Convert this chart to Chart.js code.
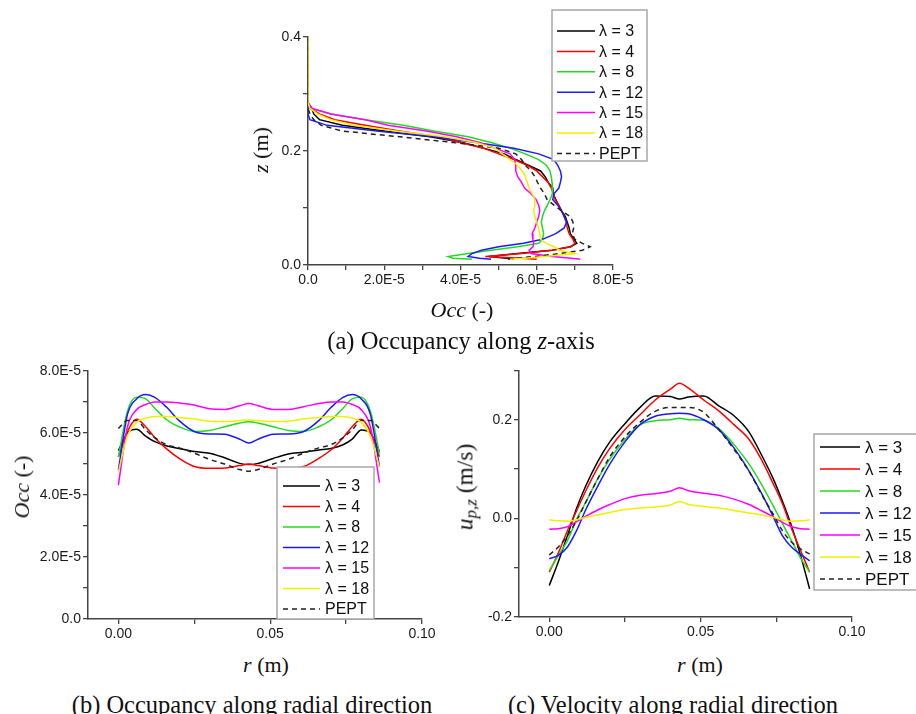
<!DOCTYPE html>
<html lang="en">
<head>
  <meta charset="UTF-8">
  <title>Occupancy and velocity profiles</title>
  <script src="https://cdn.jsdelivr.net/npm/chart.js"></script>
  <style>
    body { margin: 0; background: #fff; }
    #page { position: relative; width: 916px; height: 714px; overflow: hidden; }
    canvas { position: absolute; }
    .txt {
      position: absolute;
      font-family: "Liberation Serif", "Times New Roman", serif;
      color: #111;
      white-space: nowrap;
      line-height: 1;
      transform: translate(-50%, -50%);
    }
    .rot { transform: translate(-50%, -50%) rotate(-90deg); }
    .ax { font-size: 22px; }
    .cap { font-size: 24.5px; }
    sub { font-size: 72%; vertical-align: -0.25em; }
  </style>
</head>
<body>
<div id="page">
  <canvas id="chartA" width="430" height="300" style="left:230px;top:0px"></canvas>
  <canvas id="chartB" width="450" height="290" style="left:0px;top:360px"></canvas>
  <canvas id="chartC" width="456" height="290" style="left:460px;top:360px"></canvas>

  <div class="txt ax rot" style="left:261px;top:150px"><i>z</i> (m)</div>
  <div class="txt ax" style="left:462px;top:310px"><i>Occ</i> (-)</div>
  <div class="txt cap" style="left:461px;top:341px">(a) Occupancy along <i>z</i>-axis</div>

  <div class="txt ax rot" style="left:22px;top:487px"><i>Occ</i> (-)</div>
  <div class="txt ax" style="left:266px;top:665px"><i>r</i> (m)</div>
  <div class="txt cap" style="left:252px;top:705px">(b) Occupancy along radial direction</div>

  <div class="txt ax rot" style="left:467px;top:487px;font-size:23.5px"><i>u</i><sub><i>p,z</i></sub> (m/s)</div>
  <div class="txt ax" style="left:700px;top:665px"><i>r</i> (m)</div>
  <div class="txt cap" style="left:673px;top:705px">(c) Velocity along radial direction</div>
</div>

<script>
  // series names, shared by the three panels
  const seriesLabels = ['λ = 3', 'λ = 4', 'λ = 8', 'λ = 12', 'λ = 15', 'λ = 18', 'PEPT'];
  const seriesColors = ['#000000', '#ff0000', '#1fdc1f', '#1a1aff', '#ff00ff', '#f2ee00', '#222222'];
  // drawing order (lower is painted later, on top)
  const seriesOrder = [6, 5, 4, 3, 2, 0, 1];

  // occupancy is read in units of 1E-5
  const OCC_UNIT = 1e-5;

  // ---- (a) occupancy along z, one value per height ----
  const zGrid = [0.40, 0.30, 0.285, 0.275, 0.265, 0.255, 0.245, 0.235, 0.225, 0.215, 0.205, 0.195,
    0.185, 0.175, 0.165, 0.155, 0.145, 0.135, 0.125, 0.115, 0.105, 0.095, 0.085, 0.075, 0.065,
    0.055, 0.045, 0.038, 0.032, 0.026, 0.020, 0.015, 0.012, 0.010];
  const aOcc3 = [0, 0, 0, 0.1, 0.15, 0.3, 0.9, 2.0, 3.2, 4.05, 4.6, 5.15, 5.45, 5.78, 6.1, 6.22,
    6.3, 6.42, 6.43, 6.5, 6.57, 6.65, 6.75, 6.8, 6.85, 6.88, 6.98, 7.05, 6.88, 6.4, 5.5, 4.75, 5.2, 5.4];
  const aOcc4 = [0, 0, 0, 0.05, 0.3, 0.7, 1.5, 2.4, 3.4, 4.0, 4.6, 5.0, 5.4, 5.75, 6.0, 6.15,
    6.3, 6.38, 6.44, 6.48, 6.58, 6.65, 6.72, 6.78, 6.8, 6.85, 6.95, 7.0, 6.9, 6.4, 5.6, 4.65, 5.6, 6.0];
  const aOcc8 = [0, 0, 0, 0.05, 0.6, 1.5, 2.5, 3.3, 4.2, 4.8, 5.3, 5.7, 6.05, 6.25, 6.35, 6.38,
    6.4, 6.42, 6.4, 6.35, 6.28, 6.2, 6.15, 6.12, 6.15, 6.18, 6.15, 6.05, 5.5, 4.8, 4.2, 3.68, 3.8, 4.3];
  const aOcc12 = [0, 0, 0, 0, 0, 0.05, 0.5, 1.8, 3.3, 4.4, 5.4, 6.05, 6.45, 6.55, 6.62, 6.65,
    6.62, 6.58, 6.45, 6.42, 6.55, 6.65, 6.72, 6.78, 6.72, 6.5, 6.15, 5.65, 5.0, 4.55, 4.3, 4.2, 4.5, 4.8];
  const aOcc15 = [0, 0, 0, 0.1, 0.6, 1.5, 2.1, 3.1, 3.9, 4.5, 4.9, 5.3, 5.42, 5.45, 5.45, 5.5,
    5.6, 5.68, 5.85, 5.98, 6.05, 6.08, 6.05, 6.0, 5.95, 5.88, 5.9, 5.92, 5.9, 5.8, 5.85, 6.4, 6.9, 7.14];
  const aOcc18 = [0, 0, 0, 0.05, 0.25, 0.6, 1.2, 2.3, 3.6, 4.4, 4.9, 5.1, 5.3, 5.5, 5.62, 5.7,
    5.75, 5.8, 5.88, 5.95, 5.95, 5.92, 5.95, 6.0, 6.05, 6.08, 6.1, 6.25, 6.45, 6.6, 7.0, 6.2, 5.7, 5.3];
  const aOccPept = [0, 0, 0, 0, 0.05, 0.15, 0.35, 0.9, 2.4, 3.8, 5.0, 5.45, 5.6, 5.7, 5.85, 5.95,
    6.02, 6.1, 6.2, 6.27, 6.45, 6.65, 6.88, 6.95, 6.97, 6.93, 7.0, 7.2, 7.4, 7.2, 6.6, 5.95, 5.5, 5.2];

  // ---- (b) and (c) share one radial grid ----
  const rGrid = [0, 0.003, 0.006, 0.009, 0.012, 0.016, 0.020, 0.025, 0.030, 0.035, 0.040, 0.043,
    0.046, 0.051, 0.056, 0.061, 0.066, 0.070, 0.074, 0.077, 0.080, 0.083, 0.086];

  const bOcc3 = [5.43, 6.0, 6.12, 5.9, 5.72, 5.58, 5.5, 5.4, 5.35, 5.2, 5.02, 4.98,
    5.02, 5.18, 5.32, 5.38, 5.45, 5.5, 5.62, 5.8, 6.1, 6.0, 5.4];
  const bOcc4 = [5.23, 6.05, 6.44, 6.2, 5.85, 5.48, 5.18, 4.92, 4.86, 4.87, 4.95, 5.0,
    4.95, 4.87, 4.86, 4.92, 5.18, 5.45, 5.85, 6.2, 6.44, 6.05, 5.23];
  const bOcc8 = [5.23, 6.7, 7.15, 7.1, 6.8, 6.42, 6.2, 6.05, 6.08, 6.2, 6.32, 6.36,
    6.32, 6.2, 6.08, 6.05, 6.2, 6.42, 6.8, 7.1, 7.15, 6.7, 5.34];
  const bOcc12 = [4.8, 6.6, 7.1, 7.24, 7.15, 6.82, 6.4, 6.05, 5.97, 5.96, 5.8, 5.68,
    5.8, 5.96, 5.97, 6.05, 6.4, 6.82, 7.15, 7.24, 7.1, 6.6, 4.91];
  const bOcc15 = [4.32, 6.2, 6.75, 6.92, 7.0, 7.0, 6.97, 6.9, 6.78, 6.76, 6.88, 6.95,
    6.88, 6.76, 6.76, 6.85, 6.95, 7.0, 7.0, 6.92, 6.75, 6.2, 4.4];
  const bOcc18 = [4.75, 5.9, 6.35, 6.48, 6.53, 6.53, 6.5, 6.45, 6.38, 6.37, 6.4, 6.42,
    6.4, 6.37, 6.38, 6.45, 6.5, 6.53, 6.53, 6.48, 6.35, 5.9, 4.9];
  const bOccPept = [6.15, 6.4, 6.4, 6.1, 5.85, 5.62, 5.52, 5.35, 5.15, 5.0, 4.82, 4.77,
    4.82, 5.0, 5.15, 5.35, 5.52, 5.62, 5.85, 6.1, 6.4, 6.4, 6.15];

  const cU3 = [-0.136, -0.088, -0.035, 0.02, 0.065, 0.115, 0.155, 0.192, 0.225, 0.248, 0.247, 0.242,
    0.246, 0.248, 0.228, 0.208, 0.175, 0.13, 0.08, 0.035, -0.015, -0.075, -0.143];
  const cU4 = [-0.109, -0.07, -0.025, 0.015, 0.055, 0.103, 0.142, 0.18, 0.21, 0.24, 0.262, 0.274,
    0.264, 0.24, 0.218, 0.19, 0.16, 0.12, 0.07, 0.03, -0.02, -0.065, -0.109];
  const cU8 = [-0.106, -0.075, -0.045, -0.002, 0.032, 0.08, 0.12, 0.16, 0.19, 0.198, 0.2, 0.203,
    0.2, 0.199, 0.182, 0.15, 0.11, 0.07, 0.025, -0.01, -0.045, -0.08, -0.109];
  const cU12 = [-0.082, -0.075, -0.058, -0.025, 0.017, 0.065, 0.11, 0.155, 0.19, 0.207, 0.212, 0.213,
    0.212, 0.2, 0.18, 0.143, 0.096, 0.052, 0.003, -0.035, -0.058, -0.073, -0.086];
  const cU15 = [-0.022, -0.021, -0.017, -0.007, 0.004, 0.017, 0.028, 0.04, 0.047, 0.05, 0.055, 0.062,
    0.056, 0.051, 0.047, 0.039, 0.028, 0.016, 0.003, -0.008, -0.017, -0.021, -0.022];
  const cU18 = [-0.003, -0.005, -0.006, -0.003, 0.002, 0.007, 0.012, 0.018, 0.021, 0.023, 0.027, 0.034,
    0.028, 0.024, 0.021, 0.016, 0.011, 0.007, 0.002, -0.003, -0.006, -0.005, -0.003];
  const cUPept = [-0.074, -0.058, -0.035, -0.005, 0.032, 0.08, 0.125, 0.165, 0.195, 0.217, 0.225, 0.225,
    0.225, 0.215, 0.18, 0.14, 0.095, 0.05, 0.008, -0.025, -0.048, -0.062, -0.072];

  // ---- axis ticks ----
  const occTicks = [0, 1, 2, 3, 4, 5, 6, 7, 8];
  const occTickLabels = ['0.0', '', '2.0E-5', '', '4.0E-5', '', '6.0E-5', '', '8.0E-5'];
  const zTicks = [0, 0.1, 0.2, 0.3, 0.4];
  const zTickLabels = ['0.0', '', '0.2', '', '0.4'];
  const rTicks = [0, 0.025, 0.05, 0.075, 0.10];
  const rTickLabels = ['0.00', '', '0.05', '', '0.10'];
  const uTicks = [-0.2, -0.1, 0, 0.1, 0.2, 0.3];
  const uTickLabels = ['-0.2', '', '0.0', '', '0.2', ''];

  const AXIS = '#444';

  // boxed legend drawn at a fixed spot in the canvas
  const boxLegend = {
    id: 'boxLegend',
    afterDraw(chart, args, o) {
      const ctx = chart.ctx;
      ctx.save();
      ctx.fillStyle = '#fff';
      ctx.strokeStyle = '#a8a8a8';
      ctx.lineWidth = 1.5;
      ctx.fillRect(o.x, o.y, o.w, o.h);
      ctx.strokeRect(o.x, o.y, o.w, o.h);
      ctx.font = o.size + 'px "Liberation Sans", Arial, sans-serif';
      ctx.textBaseline = 'middle';
      chart.data.datasets.forEach((ds, i) => {
        const yy = o.rowY + i * o.rowH;
        ctx.strokeStyle = ds.borderColor;
        ctx.lineWidth = 1.5;
        ctx.setLineDash(ds.borderDash || []);
        ctx.beginPath();
        ctx.moveTo(o.lineX, yy);
        ctx.lineTo(o.lineX + o.lineW, yy);
        ctx.stroke();
        ctx.setLineDash([]);
        ctx.fillStyle = '#111';
        ctx.fillText(ds.label, o.lineX + o.lineW + o.gap, yy + 1);
      });
      ctx.restore();
    }
  };

  function makeDatasets(list, toPoint, smooth) {
    return list.map((vals, i) => ({
      label: seriesLabels[i],
      data: vals.map(toPoint),
      borderColor: seriesColors[i],
      borderWidth: 1.5,
      borderDash: i === 6 ? [5, 4] : [],
      pointRadius: 0,
      fill: false,
      tension: smooth ? 0.4 : 0,
      cubicInterpolationMode: smooth ? 'monotone' : 'default',
      order: seriesOrder[i]
    }));
  }

  function axis(min, max, ticks, labels, fixSize, isY) {
    return {
      type: 'linear',
      min: min,
      max: max,
      afterBuildTicks: s => { s.ticks = ticks.map(v => ({ value: v })); },
      afterFit: s => { if (isY) s.width = fixSize; else s.height = fixSize; },
      grid: { drawOnChartArea: false, drawTicks: true, tickLength: 5, color: AXIS, lineWidth: 1.3 },
      border: { display: true, color: AXIS, width: 1.5 },
      ticks: {
        autoSkip: false,
        maxRotation: 0,
        padding: 2,
        color: '#1a1a1a',
        font: { family: '"Liberation Sans", Arial, sans-serif', size: 14 },
        callback: (v, i) => labels[i]
      }
    };
  }

  function baseOptions(pad, xScale, yScale, legend) {
    return {
      responsive: false,
      animation: false,
      events: [],
      layout: { padding: pad, autoPadding: false },
      scales: { x: xScale, y: yScale },
      plugins: { legend: { display: false }, tooltip: { enabled: false }, boxLegend: legend }
    };
  }

  // (a)
  new Chart(document.getElementById('chartA'), {
    type: 'line',
    data: {
      datasets: makeDatasets([aOcc3, aOcc4, aOcc8, aOcc12, aOcc15, aOcc18, aOccPept],
        (v, i) => ({ x: v * OCC_UNIT, y: zGrid[i] }), false)
    },
    options: baseOptions({ left: 38, right: 47, top: 37, bottom: 10 },
      axis(0, 8 * OCC_UNIT, occTicks.map(t => t * OCC_UNIT), occTickLabels, 25, false),
      axis(0, 0.4, zTicks, zTickLabels, 40, true),
      { x: 322, y: 10, w: 95, h: 151, rowY: 31, rowH: 20.4, lineX: 327, lineW: 38, gap: 4, size: 16 }),
    plugins: [boxLegend]
  });

  // (b)
  new Chart(document.getElementById('chartB'), {
    type: 'line',
    data: {
      datasets: makeDatasets([bOcc3, bOcc4, bOcc8, bOcc12, bOcc15, bOcc18, bOccPept],
        (v, i) => ({ x: rGrid[i], y: v * OCC_UNIT }), true)
    },
    options: baseOptions({ left: 8, right: 28, top: 11, bottom: 6 },
      axis(-0.01, 0.10, rTicks, rTickLabels, 25, false),
      axis(0, 8 * OCC_UNIT, occTicks.map(t => t * OCC_UNIT), occTickLabels, 80, true),
      { x: 277, y: 107, w: 97, h: 152, rowY: 126, rowH: 20.5, lineX: 283, lineW: 37, gap: 5, size: 16 }),
    plugins: [boxLegend]
  });

  // (c)
  new Chart(document.getElementById('chartC'), {
    type: 'line',
    data: {
      datasets: makeDatasets([cU3, cU4, cU8, cU12, cU15, cU18, cUPept],
        (v, i) => ({ x: rGrid[i], y: v }), true)
    },
    options: baseOptions({ left: 9, right: 64, top: 9, bottom: 8 },
      axis(-0.01, 0.10, rTicks, rTickLabels, 25, false),
      axis(-0.2, 0.3, uTicks, uTickLabels, 50, true),
      { x: 354, y: 74, w: 104, h: 156, rowY: 87, rowH: 22, lineX: 360, lineW: 40, gap: 5, size: 17 }),
    plugins: [boxLegend]
  });
</script>
</body>
</html>
